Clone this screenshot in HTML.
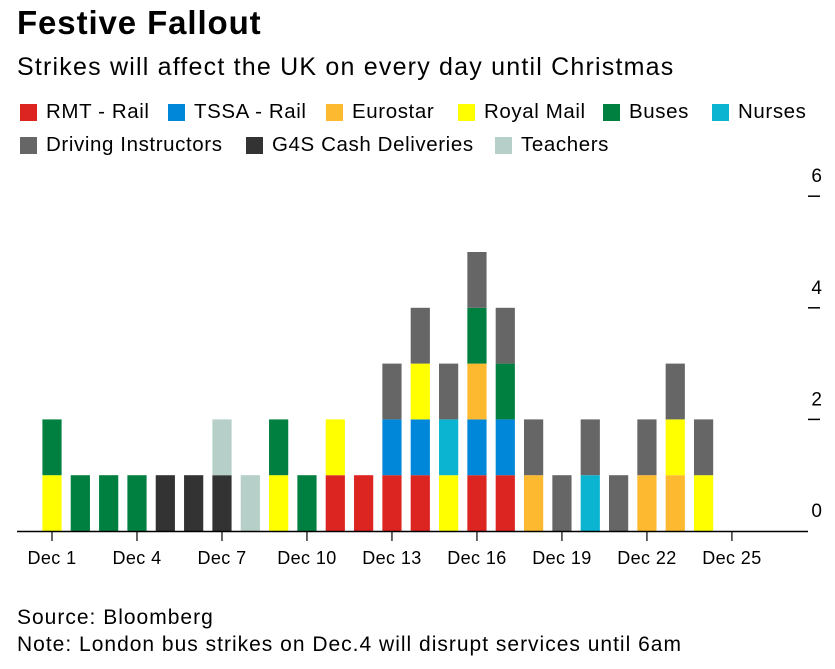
<!DOCTYPE html>
<html><head><meta charset="utf-8"><style>
body{margin:0;width:835px;height:669px;background:#fff;font-family:"Liberation Sans",sans-serif;color:#000;position:relative;overflow:hidden}
.t{position:absolute;white-space:nowrap}
.leg{position:absolute;font-size:20.5px;letter-spacing:0.6px;display:flex;align-items:center}
.sw{width:17px;height:17px;margin-right:9px;display:inline-block}
</style></head><body>
<div class="t" style="left:17px;top:4px;font-size:33px;letter-spacing:0.9px;font-weight:bold">Festive Fallout</div>
<div class="t" style="left:17px;top:53px;font-size:25px;letter-spacing:1.2px">Strikes will affect the UK on every day until Christmas</div>
<div id="legend"></div>
<svg id="chart" width="835" height="669" style="position:absolute;left:0;top:0"></svg>
<div class="t" style="left:17px;top:606px;font-size:21px;letter-spacing:1px">Source: Bloomberg</div>
<div class="t" style="left:17px;top:633px;font-size:21px;letter-spacing:1px">Note: London bus strikes on Dec.4 will disrupt services until 6am</div>
<script>
const seriesNames=["RMT - Rail","TSSA - Rail","Eurostar","Royal Mail","Buses","Nurses","Driving Instructors","G4S Cash Deliveries","Teachers"];
const seriesColors={"RMT - Rail":"#dc2420","TSSA - Rail":"#0087d9","Eurostar":"#fdb92f","Royal Mail":"#ffff00","Buses":"#008040","Nurses":"#0bb5d1","Driving Instructors":"#666666","G4S Cash Deliveries":"#333333","Teachers":"#b6cfc8"};
const days=[1,2,3,4,5,6,7,8,9,10,11,12,13,14,15,16,17,18,19,20,21,22,23,24,25];
const stacks=[["Royal Mail","Buses"],["Buses"],["Buses"],["Buses"],["G4S Cash Deliveries"],["G4S Cash Deliveries"],["G4S Cash Deliveries","Teachers"],["Teachers"],["Royal Mail","Buses"],["Buses"],["RMT - Rail","Royal Mail"],["RMT - Rail"],["RMT - Rail","TSSA - Rail","Driving Instructors"],["RMT - Rail","TSSA - Rail","Royal Mail","Driving Instructors"],["Royal Mail","Nurses","Driving Instructors"],["RMT - Rail","TSSA - Rail","Eurostar","Buses","Driving Instructors"],["RMT - Rail","TSSA - Rail","Buses","Driving Instructors"],["Eurostar","Driving Instructors"],["Driving Instructors"],["Nurses","Driving Instructors"],["Driving Instructors"],["Eurostar","Driving Instructors"],["Eurostar","Royal Mail","Driving Instructors"],["Royal Mail","Driving Instructors"],[]];
const xTickDays=[1,4,7,10,13,16,19,22,25];
const yTicks=[0,2,4,6];
const legendPos=[[20,100],[168,100],[326,100],[458,100],[603,100],[712,100],[20,133],[246,133],[495,133]];
const NS="http://www.w3.org/2000/svg";
const svg=document.getElementById('chart');
const x=d=>52+(d-1)*28.33;
const y=v=>531-v*55.8;
function mk(t,a){const e=document.createElementNS(NS,t);for(const k in a)e.setAttribute(k,a[k]);svg.appendChild(e);return e;}
stacks.forEach((s,i)=>{s.forEach((n,j)=>{
 const r=mk('rect',{x:x(days[i])-9.6,y:y(j+1),width:19.2,height:y(j)-y(j+1),fill:seriesColors[n]});
 
 
});});
const ax=mk('line',{x1:17,x2:808,y1:531.5,y2:531.5,stroke:'#000','stroke-width':1.5});


xTickDays.forEach(d=>{
 const l=mk('line',{x1:x(d),x2:x(d),y1:531,y2:541,stroke:'#000','stroke-width':1.2});
 
 
 const t=mk('text',{x:x(d),y:564,'text-anchor':'middle','font-size':18,'letter-spacing':0.4,'font-family':'Liberation Sans'});
 t.textContent='Dec '+d;
 
 
});
yTicks.forEach(v=>{
 if(v>0){const l=mk('line',{x1:808,x2:820,y1:y(v),y2:y(v),stroke:'#000','stroke-width':1.5});
 
 }
 const t=mk('text',{x:822,y:y(v)-14,'text-anchor':'end','font-size':19,'font-family':'Liberation Sans'});
 t.textContent=v;
 
 
});
const lg=document.getElementById('legend');
seriesNames.forEach((n,i)=>{
 const d=document.createElement('div');d.className='leg';
 d.style.left=legendPos[i][0]+'px';d.style.top=legendPos[i][1]+'px';
 
 
 d.innerHTML='<span class="sw" style="background:'+seriesColors[n]+'"></span>'+n;
 lg.appendChild(d);
});
</script>
</body></html>
